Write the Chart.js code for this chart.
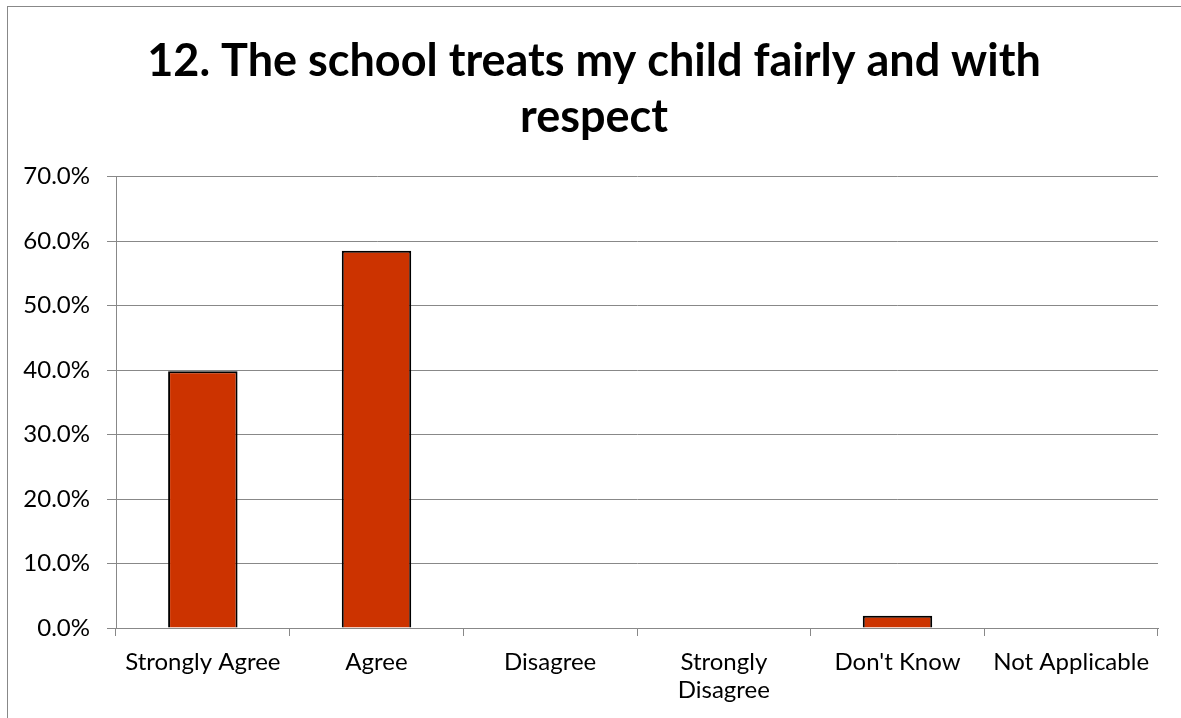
<!DOCTYPE html>
<html>
<head>
<meta charset="utf-8">
<script src="https://cdn.jsdelivr.net/npm/chart.js@4/dist/chart.umd.min.js"></script>
<style>
  html, body { margin: 0; padding: 0; background: #fff; }
  #wrap { position: absolute; left: 0; top: 0; width: 1181px; height: 718px; }
  #frame { position: absolute; left: 7px; top: 6px; width: 1200px; height: 740px; border: 1px solid #888; box-sizing: border-box; pointer-events: none; }
</style>
</head>
<body>
<div id="wrap"><canvas id="c" width="1181" height="718"></canvas></div>
<div id="frame"></div>
<script>
const titleLines = ["12. The school treats my child fairly and with", "respect"];
const categories = ["Strongly Agree", "Agree", "Disagree", ["Strongly", "Disagree"], "Don't Know", "Not Applicable"];
const values = [39.8, 58.5, 0, 0, 1.9, 0];
const yTicks = [0, 10, 20, 30, 40, 50, 60, 70];

const FONT = "Lato, 'Open Sans', sans-serif";

const titleShift = {
  id: 'titleShift',
  afterLayout(chart) {
    const t = chart.titleBlock;
    if (t) { t.left = 30; t.right = 1158; }
  }
};

new Chart(document.getElementById('c'), {
  type: 'bar',
  plugins: [titleShift],
  data: {
    labels: categories,
    datasets: [{
      data: values,
      backgroundColor: '#CC3300',
      borderColor: '#000000',
      borderWidth: 2,
      barPercentage: 0.4,
      categoryPercentage: 1.0
    }]
  },
  options: {
    responsive: false,
    animation: false,
    layout: { padding: { left: 0, right: 23, top: 0, bottom: 0 } },
    plugins: {
      legend: { display: false },
      tooltip: { enabled: false },
      title: {
        display: true,
        text: titleLines,
        color: '#000',
        font: { family: FONT, size: 45, weight: 'bold', lineHeight: 1.24 },
        padding: { top: 34, bottom: 31 }
      }
    },
    scales: {
      x: {
        afterFit: (axis) => { axis.height = 90; },
        grid: { display: true, drawOnChartArea: false, drawTicks: true, tickLength: 8, color: '#888', offset: true },
        border: { display: true, color: '#888', width: 1 },
        ticks: { color: '#000', font: { family: FONT, size: 24, lineHeight: 1.17 }, padding: 12, maxRotation: 0, autoSkip: false }
      },
      y: {
        min: 0, max: 70,
        afterFit: (axis) => { axis.width = 116; },
        afterBuildTicks: (axis) => { axis.ticks = yTicks.map(v => ({ value: v })); },
        grid: { color: '#888', lineWidth: 1, tickLength: 9 },
        border: { display: true, color: '#888', width: 1 },
        ticks: { color: '#000', font: { family: FONT, size: 24 }, padding: 17,
          callback: (v) => Number(v).toFixed(1) + '%' }
      }
    }
  }
});
</script>
</body>
</html>
